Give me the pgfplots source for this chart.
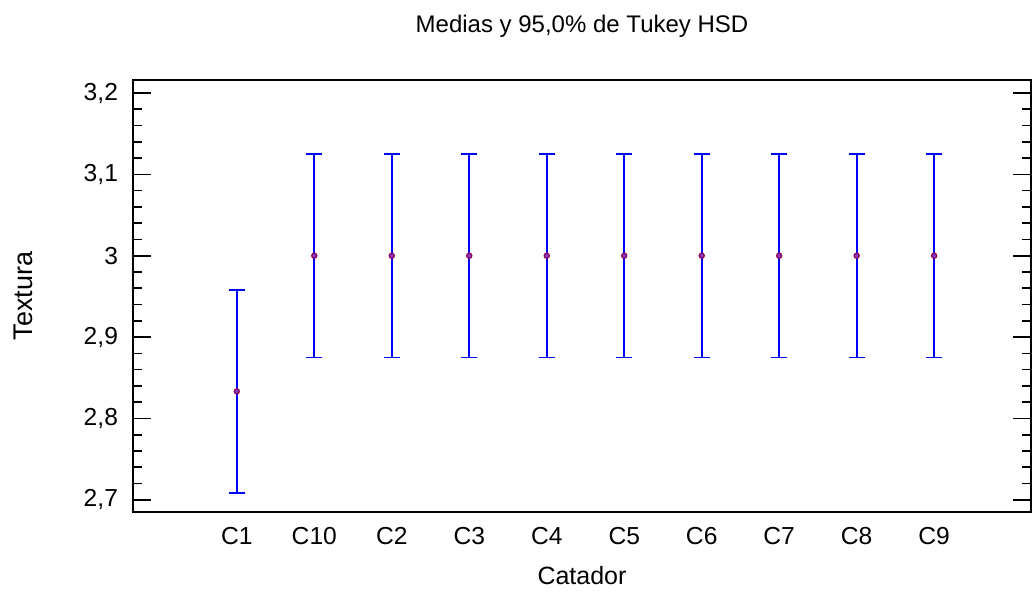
\documentclass[border=0pt]{standalone}
\usepackage{pgfplots}
\pgfplotsset{compat=1.18}
\usepackage{fontspec}
\setmainfont{Liberation Sans}
\definecolor{barblue}{RGB}{0,0,255}
\definecolor{markred}{RGB}{153,0,80}
\begin{document}
\begin{tikzpicture}
\begin{axis}[
  at={(66.5pt,39.5pt)}, anchor=south west,
  width=449pt, height=216pt, scale only axis,
  xmin=-1.34, xmax=10.25,
  ymin=2.685, ymax=3.216,
  xtick={0,1,2,3,4,5,6,7,8,9},
  xticklabels={C1,C10,C2,C3,C4,C5,C6,C7,C8,C9},
  x tick style={draw=none},
  ytick={2.7,2.8,2.9,3.0,3.1,3.2},
  minor y tick num=4,
  tick align=inside,
  major tick length=9pt, minor tick length=4.5pt,
  y tick style={black, line width=0.8pt},
  axis line style={black, line width=1pt},
  /pgf/number format/.cd, use comma, fixed, precision=1, assume math mode=true,
  /pgfplots/.cd,
  tick label style={font=\fontsize{12.3}{14}\selectfont},
  yticklabel style={xshift=-4pt},
  xticklabel style={yshift=-4pt},
  title={Medias y 95,0\% de Tukey HSD},
  title style={font=\fontsize{12}{14}\selectfont, at={(0.5,1)}, anchor=center, yshift=21pt},
  xlabel={Catador},
  xlabel style={font=\fontsize{12.5}{14}\selectfont, anchor=center, at={(0.5,0)}, yshift=-32pt},
  ylabel={Textura},
  ylabel style={font=\fontsize{13.5}{15}\selectfont, anchor=center, at={(-0.1225,0.5)}},
  clip=false,
]
\addplot[barblue, only marks, mark=*, mark size=1.3pt, mark options={draw=markred, fill={rgb,255:red,120;green,60;blue,200}, line width=0.6pt},
  error bars/.cd, y dir=both, y explicit,
  error bar style={color=barblue, line width=0.85pt},
  error mark options={color=barblue, mark size=4pt, line width=0.85pt, rotate=90}]
  table[x=x, y=y, y error=e] {
x y e
0 2.8333 0.125
1 3.0 0.125
2 3.0 0.125
3 3.0 0.125
4 3.0 0.125
5 3.0 0.125
6 3.0 0.125
7 3.0 0.125
8 3.0 0.125
9 3.0 0.125
};
\end{axis}
\pgfresetboundingbox
\path[use as bounding box] (0,0) rectangle (516.5pt,295.5pt);
\end{tikzpicture}
\end{document}
